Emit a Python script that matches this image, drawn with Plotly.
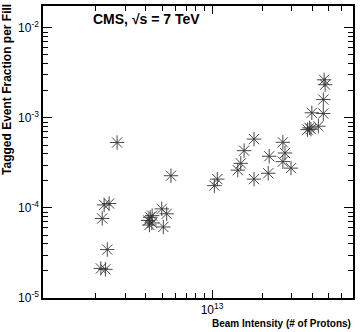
import plotly.graph_objects as go

# Beam intensity per fill (# of protons)
intensity = [
    2.68e12, 5.66e12, 2.24e12, 2.40e12, 2.18e12, 2.34e12, 2.14e12, 2.28e12,
    4.24e12, 4.36e12, 4.13e12, 4.34e12, 4.20e12, 4.98e12, 5.33e12, 5.09e12,
    1.076e13, 1.033e13, 1.43e13, 1.49e13, 1.56e13, 1.79e13, 1.79e13,
    2.21e13, 2.18e13, 2.67e13, 2.75e13, 2.67e13, 2.99e13,
    4.73e13, 4.80e13, 4.68e13, 3.99e13, 4.68e13, 3.86e13, 4.37e13, 3.76e13, 3.94e13,
]
# Tagged event fraction per fill
fraction = [
    5.33e-4, 2.28e-4, 1.08e-4, 1.12e-4, 7.64e-5, 3.45e-5, 2.13e-5, 2.08e-5,
    7.88e-5, 8.22e-5, 7.26e-5, 6.81e-5, 6.47e-5, 9.77e-5, 8.61e-5, 6.15e-5,
    2.09e-4, 1.77e-4, 2.63e-4, 3.13e-4, 4.33e-4, 5.82e-4, 2.09e-4,
    3.75e-4, 2.43e-4, 5.36e-4, 4.08e-4, 3.27e-4, 2.77e-4,
    2.65e-3, 2.34e-3, 1.60e-3, 1.14e-3, 1.12e-3, 7.76e-4, 8.09e-4, 7.41e-4, 7.50e-4,
]

x_major = [1e13]
x_major_text = ["10<sup>13</sup>"]
x_minor = [m * 1e12 for m in range(2, 10)] + [m * 1e13 for m in range(2, 8)]

y_major = [1e-5, 1e-4, 1e-3, 1e-2]
y_major_text = ["10<sup>-5</sup>", "10<sup>-4</sup>", "10<sup>-3</sup>", "10<sup>-2</sup>"]
y_minor = [m * 10.0 ** e for e in (-5, -4, -3, -2) for m in range(2, 10)]

font = "Liberation Sans, Arial, Helvetica, sans-serif"

fig = go.Figure()
fig.add_trace(
    go.Scatter(
        x=intensity,
        y=fraction,
        mode="markers",
        marker=dict(symbol="asterisk-open", size=12, color="#333",
                    line=dict(color="#333", width=0.9)),
        showlegend=False,
    )
)

axis_common = dict(
    type="log",
    showgrid=False,
    zeroline=False,
    showline=True,
    linecolor="black",
    linewidth=1.5,
    mirror="allticks",
    ticks="inside",
    tickcolor="black",
    tickwidth=1,
    tickmode="array",
    tickfont=dict(family=font, size=12, color="black"),
)

fig.update_xaxes(
    **axis_common,
    range=[11.982, 13.849],
    tickvals=x_major,
    ticktext=x_major_text,
    ticklen=8,
    minor=dict(tickmode="array", tickvals=x_minor, ticks="inside", ticklen=5,
               tickcolor="black", tickwidth=1, showgrid=False),
)
fig.update_yaxes(
    **axis_common,
    range=[-5, -1.757],
    tickvals=y_major,
    ticktext=y_major_text,
    ticklen=9,
    minor=dict(tickmode="array", tickvals=y_minor, ticks="inside", ticklen=5,
               tickcolor="black", tickwidth=1, showgrid=False),
)

fig.add_annotation(
    xref="paper", yref="paper", x=0.155, y=0.955,
    xanchor="left", yanchor="middle", showarrow=False,
    text="<b>CMS, \u221as = 7 TeV</b>",
    font=dict(family=font, size=14, color="black"),
)
fig.add_annotation(
    xref="paper", yref="paper", x=1.0, y=-0.088,
    xanchor="right", yanchor="middle", showarrow=False,
    text="<b>Beam Intensity (# of Protons)</b>",
    font=dict(family=font, size=10, color="black"),
)
fig.add_annotation(
    xref="paper", yref="paper", x=-0.118, y=1.0136,
    xanchor="center", yanchor="top", showarrow=False, textangle=-90,
    text="<b>Tagged Event Fraction per Fill</b>",
    font=dict(family=font, size=12, color="black"),
)

fig.update_layout(
    width=361,
    height=332,
    margin=dict(l=43, r=8, t=4, b=34),
    plot_bgcolor="white",
    paper_bgcolor="white",
)

# drop the page's default body margin so the figure sits at the window origin
fig.write_html(
    "out.html",
    config=dict(displayModeBar=False),
    post_script="document.body.style.margin='0px';",
)
